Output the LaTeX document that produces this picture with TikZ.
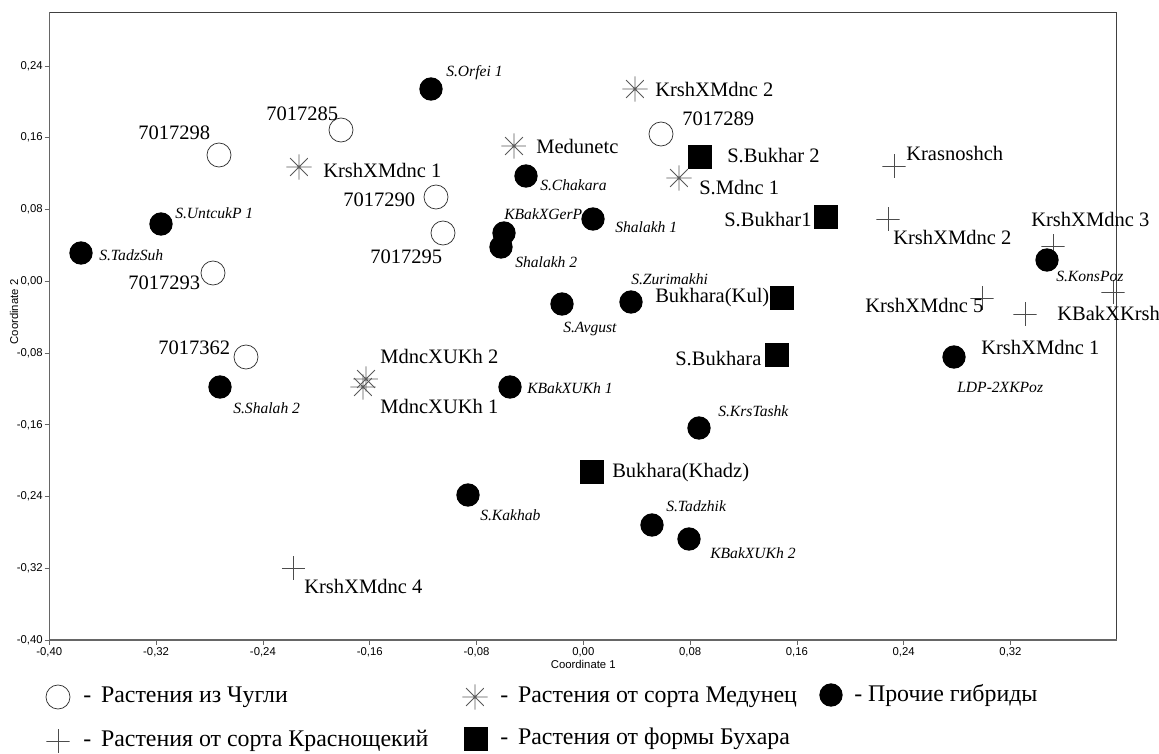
\documentclass[tikz,border=0pt]{standalone}
\usepackage{fontspec}
\setmainfont{Liberation Serif}
\newfontfamily\axisfont{Liberation Sans}
\newcommand\mkpt[6]{%
  \node[#1] (#2) at (#3) {};
  \node[#4] (#2-l) at (#5) {#6};}
\begin{document}
\begin{tikzpicture}[x=0.75pt,y=-0.75pt,
  chugli/.style={circle, draw=black!80, line width=0.55pt, minimum size=18pt, inner sep=0pt},
  other/.style={circle, fill=black, minimum size=17.5pt, inner sep=0pt},
  bukh/.style={rectangle, fill=black, minimum size=17.5pt, inner sep=0pt},
  plusm/.style={rectangle, minimum size=17.5pt, inner sep=0pt,
    path picture={\draw[black!70, line width=0.55pt]
      (path picture bounding box.north) -- (path picture bounding box.south)
      (path picture bounding box.west) -- (path picture bounding box.east);}},
  astm/.style={circle, minimum size=19pt, inner sep=0pt,
    path picture={\draw[black!65, line width=0.55pt, shift={(path picture bounding box.center)}]
      (0:9.5pt) -- (180:9.5pt) (90:9.5pt) -- (270:9.5pt)
      (45:9.5pt) -- (225:9.5pt) (135:9.5pt) -- (315:9.5pt);}},
  lab/.style={font=\fontsize{15.4}{17}\selectfont, inner sep=0pt, anchor=west},
  ilab/.style={font=\fontsize{11.7}{13}\selectfont\itshape, inner sep=0pt, anchor=west},
  tick/.style={font=\axisfont\fontsize{8.5}{10}\selectfont, inner sep=0pt},
  leg/.style={font=\fontsize{17.9}{20}\selectfont, inner sep=0pt, anchor=west}]
\fill[white] (0,0) rectangle (1159,753);
\useasboundingbox (0,0) rectangle (1159,753);
% frame and axes
\draw[black!75, line width=0.55pt] (49.3,12) rectangle (1116.7,640);
\draw[black!60, line width=1pt] (49.3,12) -- (49.3,640) -- (1116.7,640);
\foreach \yy/\t [count=\i] in {66/{0,24},137.75/{0,16},209.5/{0,08},281.3/{0,00},353/{-0,08},424.8/{-0,16},496.5/{-0,24},568.3/{-0,32},640/{-0,40}}{
  \draw[black!60, line width=0.6pt] (44.5,\yy) -- (49.3,\yy);
  \node[tick, anchor=east] (yt\i) at (43,\yy) {\t};
}
\foreach \xx/\t [count=\i] in {49.3/{-0,40},156.1/{-0,32},262.9/{-0,24},369.7/{-0,16},476.5/{-0,08},583.3/{0,00},690.1/{0,08},796.9/{0,16},903.7/{0,24},1010.5/{0,32}}{
  \draw[black!60, line width=0.6pt] (\xx,640) -- (\xx,644.5);
  \node[tick] (xt\i) at (\xx,652) {\t};
}
\node[tick] (xlab) at (583.3,664.5) {Coordinate 1};
\node[tick, rotate=90] (ylab) at (14,312) {Coordinate 2};
% Chugli (open circles)
\mkpt{chugli}{c1}{219,155}{lab}{138,133}{7017298}
\mkpt{chugli}{c2}{213,273}{lab}{128,283}{7017293}
\mkpt{chugli}{c3}{341,130}{lab}{266,114}{7017285}
\mkpt{chugli}{c4}{436,197}{lab}{343,200}{7017290}
\mkpt{chugli}{c5}{443,233}{lab}{370,257}{7017295}
\mkpt{chugli}{c6}{661,134}{lab}{682,119}{7017289}
\mkpt{chugli}{c7}{246,357}{lab}{158,348}{7017362}
% Medunets (asterisks)
\mkpt{astm}{a1}{299,167}{lab}{323,170}{KrshXMdnc 1}
\mkpt{astm}{a2}{514,146}{lab}{536,146}{Medunetc}
\mkpt{astm}{a3}{635,89}{lab}{655,89}{KrshXMdnc 2}
\mkpt{astm}{a4}{679,178}{lab}{699,188}{S.Mdnc 1}
\mkpt{astm}{a5}{366,379}{lab}{380,356}{MdncXUKh 2}
\mkpt{astm}{a6}{363,387}{lab}{380,406}{MdncXUKh 1}
% Bukhara (squares)
\mkpt{bukh}{b1}{700,157}{lab}{727,156}{S.Bukhar 2}
\mkpt{bukh}{b2}{826,217}{lab}{724,220}{S.Bukhar1}
\mkpt{bukh}{b3}{782,298}{lab}{655,298}{Bukhara(Kul)}
\mkpt{bukh}{b4}{777,355}{lab}{675,359}{S.Bukhara}
\mkpt{bukh}{b5}{592,472}{lab}{612,473}{Bukhara(Khadz)}
% Krasnoshchekiy (plus)
\mkpt{plusm}{k1}{894,166}{lab}{906,153}{Krasnoshch}
\mkpt{plusm}{k2}{888,219}{lab}{893,237}{KrshXMdnc 2}
\mkpt{plusm}{k3}{1053,246}{lab}{1031,219}{KrshXMdnc 3}
\mkpt{plusm}{k4}{1113,292}{lab}{1057,313}{KBakXKrsh}
\mkpt{plusm}{k5}{982,298}{lab}{865,305}{KrshXMdnc 5}
\mkpt{plusm}{k6}{1025,314}{lab}{981,347}{KrshXMdnc 1}
\mkpt{plusm}{k7}{293.6,568}{lab}{304,586}{KrshXMdnc 4}
% other hybrids (filled circles)
\mkpt{other}{o1}{431,89}{ilab}{446,73}{S.Orfei 1}
\mkpt{other}{o2}{161,224}{ilab}{175,213}{S.UntcukP 1}
\mkpt{other}{o3}{81,253}{ilab}{99,255}{S.TadzSuh}
\mkpt{other}{o4}{526,176}{ilab}{540,185}{S.Chakara}
\mkpt{other}{o5}{504,233}{ilab}{504,214}{KBakXGerP}
\mkpt{other}{o6}{501,247}{ilab}{515,262}{Shalakh 2}
\mkpt{other}{o7}{593,219}{ilab}{615,227}{Shalakh 1}
\mkpt{other}{o8}{631,302}{ilab}{631,279}{S.Zurimakhi}
\mkpt{other}{o9}{562,304}{ilab}{563,329}{S.Avgust}
\mkpt{other}{o10}{510,387}{ilab}{527,388}{KBakXUKh 1}
\mkpt{other}{o11}{699,428}{ilab}{718,411}{S.KrsTashk}
\mkpt{other}{o12}{468,495}{ilab}{480,515}{S.Kakhab}
\mkpt{other}{o13}{652,525}{ilab}{666,506}{S.Tadzhik}
\mkpt{other}{o14}{689,539}{ilab}{710,553}{KBakXUKh 2}
\mkpt{other}{o15}{220,387}{ilab}{233,408}{S.Shalah 2}
\mkpt{other}{o16}{1047,260}{ilab}{1056,276}{S.KonsPoz}
\mkpt{other}{o17}{954,357}{ilab}{957,387}{LDP-2XKPoz}
% legend
\node[chugli] (g1) at (58,697) {};
\node[leg] (g1t) at (83,697) {-\hspace{7.4pt}Растения из Чугли};
\node[plusm] (g2) at (58,741) {};
\node[leg] (g2t) at (83,741) {-\hspace{7.4pt}Растения от сорта Краснощекий};
\node[astm] (g3) at (475,697) {};
\node[leg] (g3t) at (500,697) {-\hspace{7.4pt}Растения от сорта Медунец};
\node[bukh] (g4) at (476,739) {};
\node[leg] (g4t) at (500,739) {-\hspace{7.4pt}Растения от формы Бухара};
\node[other] (g5) at (831,695) {};
\node[leg] (g5t) at (854,695) {-\hspace{4.4pt}Прочие гибриды};
\end{tikzpicture}
\end{document}
